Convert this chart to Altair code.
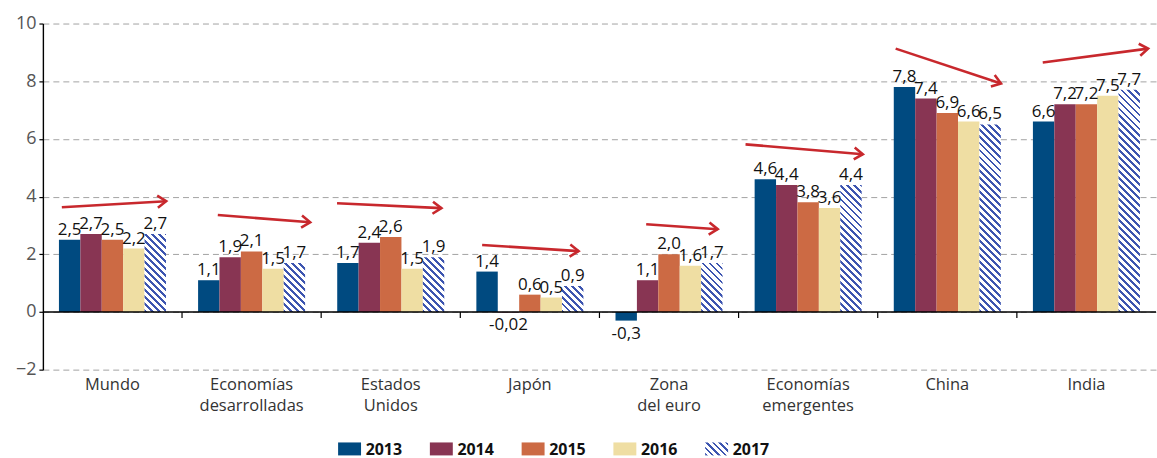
import math
import altair as alt
import pandas as pd

categories = ["Mundo", "Economías\ndesarrolladas", "Estados\nUnidos", "Japón",
              "Zona\ndel euro", "Economías\nemergentes", "China", "India"]
years = ["2013", "2014", "2015", "2016", "2017"]
v2013 = [2.5, 1.1, 1.7, 1.4, -0.3, 4.6, 7.8, 6.6]
v2014 = [2.7, 1.9, 2.4, -0.02, 1.1, 4.4, 7.4, 7.2]
v2015 = [2.5, 2.1, 2.6, 0.6, 2.0, 3.8, 6.9, 7.2]
v2016 = [2.2, 1.5, 1.5, 0.5, 1.6, 3.6, 6.6, 7.5]
v2017 = [2.7, 1.7, 1.9, 0.9, 1.7, 4.4, 6.5, 7.7]
# trend arrows: start / end position inside each group's slot (fraction) and level
arrow_x0 = [0.136, 0.257, 0.114, 0.157, 0.336, 0.05, 0.129, 0.186]
arrow_x1 = [0.886, 0.921, 0.864, 0.85, 0.85, 0.893, 0.886, 0.943]
arrow_y0 = [3.63, 3.36, 3.77, 2.32, 3.04, 5.81, 9.13, 8.65]
arrow_y1 = [3.84, 3.11, 3.60, 2.11, 2.87, 5.47, 7.92, 9.13]

colors = ["#004a80", "#883553", "#cc6a44", "#efdea3", "#ffffff"]
HATCH = "#3d55b0"
RED = "#c8282d"
FONT = "Open Sans"

W = 1116
H = 347
YMIN, YMAX = -2, 10
KY = H / (YMAX - YMIN)
KX = W / len(categories)
PAD_OUT = 0.75
BAR_W = KX / (len(years) + 2 * PAD_OUT)


def fmt(v):
    s = f"{v:.2f}" if abs(v) < 0.1 else f"{v:.1f}"
    return s.replace(".", ",")


def hatch(w, h, period=7.0, frac=0.42):
    L = w + h
    stops = []
    k = 0
    while k * period < L:
        a = round(k * period / L, 5)
        b = round(min((k + frac) * period / L, 1), 5)
        c = round(min((k + 1) * period / L, 1), 5)
        stops += [{"offset": a, "color": HATCH}, {"offset": b, "color": HATCH},
                  {"offset": b, "color": "#ffffff"}, {"offset": c, "color": "#ffffff"}]
        k += 1
    d = w * w + h * h
    return {"gradient": "linear", "x1": 0, "y1": 1,
            "x2": round(w * L / d, 5), "y2": round(1 - h * L / d, 5), "stops": stops}


rows = []
for y, vals in zip(years, [v2013, v2014, v2015, v2016, v2017]):
    for c, v in zip(categories, vals):
        rows.append({"cat": c, "year": y, "value": v, "label": fmt(v)})
df = pd.DataFrame(rows)

x_axis = alt.Axis(domain=False, ticks=False, labelPadding=7, labelFontSize=16.5,
                  labelColor="#333333", labelFont=FONT, labelAngle=0,
                  labelExpr="split(datum.label, '\\n')", labelLineHeight=21,
                  labelBaseline="top", title=None)
x_scale = alt.Scale(domain=categories, paddingInner=0, paddingOuter=0)
x_main = alt.X("cat:N", scale=x_scale, axis=x_axis)
xoff = alt.XOffset("year:N", scale=alt.Scale(domain=years, paddingInner=0, paddingOuter=PAD_OUT))
y_axis = alt.Axis(values=[-2, 0, 2, 4, 6, 8, 10], grid=True, gridDash=[6, 4],
                  gridColor="#a3a3a3", gridWidth=1, domainColor="#000000", domainWidth=1.4,
                  tickColor="#000000", tickSize=4, tickWidth=1.2, labelFontSize=18,
                  labelColor="#555555", labelFont=FONT, labelPadding=3, title=None)
y_scale = alt.Scale(domain=[YMIN, YMAX], nice=False, zero=False)
y_main = alt.Y("value:Q", scale=y_scale, axis=y_axis)

bars = alt.Chart(df).transform_filter("datum.year != '2017'").mark_bar().encode(
    x=x_main, xOffset=xoff, y=y_main,
    color=alt.Color("year:N", scale=alt.Scale(domain=years, range=colors), legend=None),
)

hatched = []
for c, v in zip(categories, v2017):
    hatched.append(
        alt.Chart(df).transform_filter(
            alt.FieldEqualPredicate(field="cat", equal=c)
        ).transform_filter("datum.year == '2017'").mark_bar(
            fill=hatch(BAR_W, abs(v) * KY)
        ).encode(x=x_main, xOffset=xoff, y=y_main)
    )

lab_pos = alt.Chart(df).transform_filter("datum.value >= 0").mark_text(
    baseline="alphabetic", dy=-5, fontSize=17, font=FONT, color="#111111"
).encode(x=x_main, xOffset=xoff, y=y_main, text="label:N")
lab_neg = alt.Chart(df).transform_filter("datum.value < 0").mark_text(
    baseline="top", dy=5, fontSize=17, font=FONT, color="#111111"
).encode(x=x_main, xOffset=xoff, y=y_main, text="label:N")

layer_a = alt.layer(bars, *hatched, lab_pos, lab_neg)

# overlay: zero line, group ticks and trend arrows on a continuous x
xq = alt.Scale(domain=[0, len(categories)], nice=False, zero=False)
arr = pd.DataFrame({
    "i": list(range(len(categories))),
    "s": arrow_x0, "e": arrow_x1, "ya": arrow_y0, "yb": arrow_y1,
})
arr["xa"] = arr["i"] + arr["s"]
arr["xb"] = arr["i"] + arr["e"]
arr["ang"] = [
    math.degrees(math.atan2(-(b - a) * KY, (e - s) * KX)) % 360
    for s, e, a, b in zip(arrow_x0, arrow_x1, arrow_y0, arrow_y1)
]

zero_df = pd.DataFrame({"xa": [0], "xb": [len(categories)], "ya": [0]})
zero = alt.Chart(zero_df).mark_rule(color="#000000", strokeWidth=1.5).encode(
    x=alt.X("xa:Q", scale=xq, axis=None), x2="xb:Q",
    y=alt.Y("ya:Q", scale=y_scale, axis=y_axis),
)
tick_df = pd.DataFrame({"xa": list(range(1, len(categories))), "ya": 0.0, "yb": -0.21})
ticks = alt.Chart(tick_df).mark_rule(color="#000000", strokeWidth=1.2).encode(
    x=alt.X("xa:Q", scale=xq, axis=None),
    y=alt.Y("ya:Q", scale=y_scale, axis=y_axis), y2="yb:Q",
)
lines = alt.Chart(arr).mark_rule(color=RED, strokeWidth=2.6).encode(
    x=alt.X("xa:Q", scale=xq, axis=None), x2="xb:Q",
    y=alt.Y("ya:Q", scale=y_scale, axis=y_axis), y2="yb:Q",
)
heads = alt.Chart(arr).mark_point(
    shape="M-1,-0.7L0,0L-1,0.7", filled=False, stroke=RED, strokeWidth=2.6,
    size=300, opacity=1, strokeJoin="miter",
).encode(
    x=alt.X("xb:Q", scale=xq, axis=None),
    y=alt.Y("yb:Q", scale=y_scale, axis=y_axis),
    angle=alt.Angle("ang:Q", scale=None),
)
layer_b = alt.layer(zero, ticks, lines, heads)

main = alt.layer(layer_a, layer_b).resolve_scale(x="independent").properties(
    width=W, height=H
)

# legend row
leg = pd.DataFrame({"year": years, "idx": list(range(len(years)))})
leg_scale = alt.Scale(domain=[-3.217, 8.913], nice=False, zero=False)
leg_rect = alt.Chart(leg).transform_filter("datum.year != '2017'").transform_calculate(
    x0="datum.idx", x1="datum.idx + 0.25"
).mark_rect().encode(
    x=alt.X("x0:Q", scale=leg_scale, axis=None), x2="x1:Q",
    color=alt.Color("year:N", scale=alt.Scale(domain=years, range=colors), legend=None),
)
leg_hatch = alt.Chart(leg).transform_filter("datum.year == '2017'").transform_calculate(
    x0="datum.idx", x1="datum.idx + 0.25"
).mark_rect(fill=hatch(23, 13, period=6.5)).encode(
    x=alt.X("x0:Q", scale=leg_scale, axis=None), x2="x1:Q",
)
leg_text = alt.Chart(leg).transform_calculate(xt="datum.idx + 0.3").mark_text(
    align="left", baseline="middle", fontSize=16, fontWeight="bold", font=FONT,
    color="#111111", dy=1,
).encode(x=alt.X("xt:Q", scale=leg_scale, axis=None), text="year:N")
legend = alt.layer(leg_rect, leg_hatch, leg_text).properties(width=W, height=13)

chart = alt.vconcat(main, legend, spacing=27).properties(
    padding={"left": 15, "top": 14, "right": 0, "bottom": 0}
).configure(font=FONT).configure_view(stroke=None)

chart.save("out.html", embed_options={"renderer": "svg", "actions": False})
